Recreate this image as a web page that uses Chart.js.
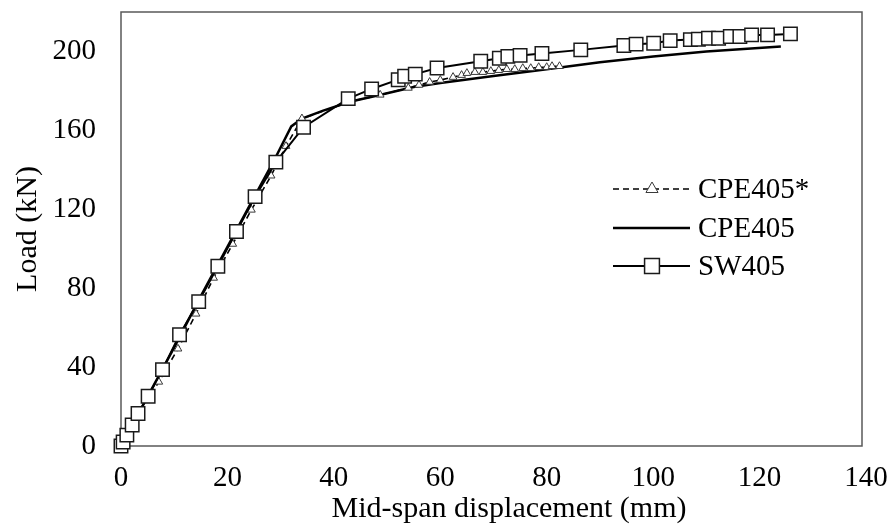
<!DOCTYPE html>
<html>
<head>
<meta charset="utf-8">
<script src="https://cdn.jsdelivr.net/npm/chart.js@4.4.0/dist/chart.umd.min.js"></script>
<style>
  html, body { margin: 0; padding: 0; background: #ffffff; }
</style>
</head>
<body>
<canvas id="loadChart" width="895" height="525"></canvas>
<script>
// valores
const xTicks = [0, 20, 40, 60, 80, 100, 120, 140];
const yTicks = [0, 40, 80, 120, 160, 200];
const seriesNames = ["CPE405*", "CPE405", "SW405"];

// CPE405* (discontinua con triangulos)
const cpeStarX = [0, 1.5, 3.5, 7.1, 10.7, 14.1, 17.4, 21, 24.5, 28.2, 31, 34, 43, 48.7, 54, 56, 58, 60, 62.4,
  64, 65, 66.5, 68, 69.5, 71, 72.5, 74, 75.5, 77, 78.5, 80, 81, 82.4];
const cpeStarY = [0, 7, 16, 32.5, 49.3, 67, 85.2, 102.4, 119.7, 137, 152, 166, 174.5, 178, 181.5, 183, 184.5, 185.5, 187,
  188, 189, 189.5, 189.5, 190, 190.5, 191, 191, 191.5, 191.5, 192, 192, 192.5, 192.5];

// CPE405 (linea continua)
const cpeX = [0, 5, 10, 15, 20, 25, 29, 32, 34, 38, 43, 48, 55, 60, 70, 80, 90, 100, 110, 124];
const cpeY = [0, 25, 50, 76, 101, 126, 146, 162, 166, 170, 174.5, 177.5, 182, 184, 187.5, 191, 194.5, 197.5, 200, 202.5];

// SW405 (cuadrados)
const swX = [0, 0.4, 1.1, 2.1, 3.2, 5.1, 7.8, 11.0, 14.6, 18.2, 21.7, 25.2, 29.1, 34.3, 42.7, 47.1, 52.1, 53.3, 55.3,
  59.4, 67.6, 71.1, 72.7, 75.0, 79.1, 86.4, 94.5, 96.8, 100.1, 103.2, 107.0, 108.5, 110.4, 112.3, 114.5, 116.3,
  118.5, 121.5, 125.8];
const swY = [0, 2, 5.5, 10.6, 16.5, 25.2, 38.7, 56.4, 73.2, 91.1, 108.7, 126.4, 143.9, 161.6, 176.1, 181, 185.7, 187.4,
  188.5, 191.6, 195, 196.6, 197.5, 198, 199, 200.8, 203, 203.7, 204.2, 205.5, 206, 206.2, 206.7, 206.7, 207.6, 207.6,
  208.4, 208.4, 208.9];

const toPoints = (xs, ys) => xs.map((x, i) => ({ x: x, y: ys[i] }));

const serif = "'Liberation Serif', 'Times New Roman', serif";

// marco del area de trazado + titulo del eje x
const framePlugin = {
  id: "frame",
  beforeDatasetsDraw(chart) {
    const { ctx, chartArea: a } = chart;
    ctx.save();
    ctx.strokeStyle = "#595959";
    ctx.lineWidth = 1.5;
    ctx.strokeRect(a.left, a.top, a.right - a.left - 4, a.bottom - a.top);
    ctx.restore();
  },
  afterDraw(chart) {
    const { ctx } = chart;
    ctx.save();
    ctx.fillStyle = "#000000";
    ctx.font = "30px " + serif;
    ctx.textAlign = "center";
    ctx.textBaseline = "alphabetic";
    ctx.fillText("Mid-span displacement (mm)", 509, 517);
    ctx.restore();
  },
};

// leyenda dentro del grafico
const legendPlugin = {
  id: "insideLegend",
  afterDraw(chart) {
    const { ctx } = chart;
    const rows = [189, 228, 266];
    ctx.save();
    chart.data.datasets.forEach((ds, i) => {
      const y = rows[i];
      ctx.strokeStyle = "#000000";
      ctx.lineWidth = ds.borderWidth;
      ctx.setLineDash(ds.borderDash || []);
      ctx.beginPath();
      ctx.moveTo(613, y);
      ctx.lineTo(690, y);
      ctx.stroke();
      ctx.setLineDash([]);
      if (ds.pointRadius > 0) {
        ctx.fillStyle = "#ffffff";
        ctx.strokeStyle = ds.pointBorderColor;
        ctx.lineWidth = ds.pointBorderWidth;
        Chart.helpers.drawPoint(ctx, {
          pointStyle: ds.pointStyle,
          radius: ds.pointStyle === "triangle" ? 7 : 10.5,
          rotation: 0,
          borderWidth: ds.pointBorderWidth,
        }, 652, y);
      }
      ctx.fillStyle = "#000000";
      ctx.font = "29px " + serif;
      ctx.textAlign = "left";
      ctx.textBaseline = "middle";
      ctx.fillText(ds.label, 698, y + 1);
    });
    ctx.restore();
  },
};

// quitar el relleno que Chart.js reserva para las etiquetas extremas
const noEdgePadding = (s) => {
  s.paddingTop = 0;
  s.paddingBottom = 0;
  s.paddingLeft = 0;
  s.paddingRight = 0;
};

new Chart(document.getElementById("loadChart"), {
  type: "line",
  data: {
    datasets: [
      {
        label: seriesNames[0],
        data: toPoints(cpeStarX, cpeStarY),
        borderColor: "#000000",
        borderWidth: 1.6,
        borderDash: [6, 4],
        pointStyle: "triangle",
        pointRadius: 4.5,
        pointBackgroundColor: "#ffffff",
        pointBorderColor: "#3a3a3a",
        pointBorderWidth: 1,
        order: 1,
        clip: false,
      },
      {
        label: seriesNames[1],
        data: toPoints(cpeX, cpeY),
        borderColor: "#000000",
        borderWidth: 2.5,
        pointRadius: 0,
        order: 2,
        clip: false,
      },
      {
        label: seriesNames[2],
        data: toPoints(swX, swY),
        borderColor: "#000000",
        borderWidth: 2,
        pointStyle: "rect",
        pointRadius: 9.5,
        pointBackgroundColor: "#ffffff",
        pointBorderColor: "#1a1a1a",
        pointBorderWidth: 1.5,
        order: 0,
        clip: false,
      },
    ],
  },
  options: {
    responsive: false,
    animation: false,
    devicePixelRatio: 1,
    layout: { padding: { top: 12, right: 29, bottom: 0, left: 0 } },
    plugins: {
      legend: { display: false },
      tooltip: { enabled: false },
    },
    scales: {
      x: {
        type: "linear",
        min: 0,
        max: 140,
        grid: { display: false, drawTicks: false },
        border: { display: false },
        ticks: {
          color: "#000000",
          font: { family: serif, size: 29 },
          padding: 15,
          maxRotation: 0,
        },
        afterBuildTicks: (s) => { s.ticks = xTicks.map((v) => ({ value: v })); },
        afterFit: (s) => { s.height = 79; noEdgePadding(s); },
      },
      y: {
        type: "linear",
        min: 0,
        max: 220,
        grid: { display: false, drawTicks: false },
        border: { display: false },
        ticks: {
          color: "#000000",
          font: { family: serif, size: 29 },
          padding: 25,
        },
        title: {
          display: true,
          text: "Load (kN)",
          color: "#000000",
          font: { family: serif, size: 30 },
          padding: { top: 10 },
        },
        afterBuildTicks: (s) => { s.ticks = yTicks.map((v) => ({ value: v })); },
        afterFit: (s) => { s.width = 121; noEdgePadding(s); },
      },
    },
  },
  plugins: [framePlugin, legendPlugin],
});
</script>
</body>
</html>
